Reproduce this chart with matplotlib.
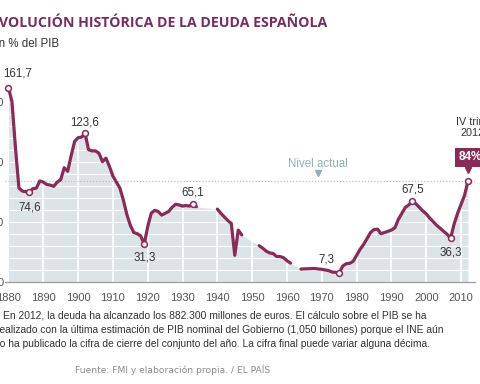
import numpy as np
import matplotlib
matplotlib.use("Agg")
import matplotlib.pyplot as plt

# deuda publica en % del PIB (NaN = sin dato)
years = np.arange(1880, 2013)
debt = [
    161.7, 150, 112, 78, 75.5, 75, 74.6, 77.5, 78, 84,          # 1880-1889
    83, 81, 80.5, 79.5, 83, 85, 95, 92, 105, 117,               # 1890-1899
    120, 120.5, 123.6, 110, 109, 109, 107, 100, 103, 96,        # 1900-1909
    88, 83, 78, 68, 56, 47, 41, 40, 38, 31.3,                   # 1910-1919
    46, 57, 59.5, 58.5, 55.5, 57, 58.5, 62, 64.5, 64,           # 1920-1929
    63, 63.5, 63, 65.1, 62.5, np.nan, np.nan, np.nan, np.nan, np.nan,  # 1930-1939
    60.5, 57, 54, 51, 48.5, 22, 43, 39, np.nan, np.nan,         # 1940-1949
    np.nan, np.nan, 30, 28, 25.5, 24, 23.5, 21, 21, 20,         # 1950-1959
    17.5, 15.5, np.nan, np.nan, 10.5, 10.7, 10.8, 10.9, 11, 10.6,  # 1960-1969
    10.3, 9.8, 9.2, 8, 7.8, 7.3, 13, 15, 15.3, 17,              # 1970-1979
    22, 27, 31, 36, 41, 43.5, 43.8, 40, 41, 42,                 # 1980-1989
    43, 45, 52, 57, 62, 64, 67.5, 65, 62, 59,                   # 1990-1999
    56.5, 53, 50, 47, 44.5, 42, 39.5, 36.3, 48, 57,             # 2000-2009
    64.5, 72, 84,                                               # 2010-2012
]
debt = np.array(debt, dtype=float)

label_years = [1880, 1886, 1902, 1919, 1933, 1975, 1996, 2007]
label_values = [161.7, 74.6, 123.6, 31.3, 65.1, 7.3, 67.5, 36.3]
label_texts = ["161,7", "74,6", "123,6", "31,3", "65,1", "7,3", "67,5", "36,3"]
label_offsets = [(6.5, 10), (0, -11), (0, 8), (0, -9.5), (0, 8), (-9, 10), (0, 8), (0, -10)]

current_level = 84
decades = list(range(1880, 2011, 10))

LINE = "#8b2a57"
FILL = "#dde4e8"
TITLE = "#7a2d5c"

fig = plt.figure(figsize=(4.8, 3.84), dpi=100)
fig.patch.set_facecolor("white")
ax = fig.add_axes([5 / 480, 1 - 281.7 / 384, 470 / 480, 210 / 384])

valid = ~np.isnan(debt)
ax.fill_between(years[valid], debt[valid], 0, color=FILL, lw=0, zorder=1)
for x in decades[1:]:
    ax.axvline(x, color="white", lw=1.3, zorder=2)
for y in range(10, 180, 10):
    ax.axhline(y, color="white", lw=0.8, zorder=2)

ax.axhline(current_level, color="#bfbfbf", lw=0.9, ls=(0, (1, 1.5)), zorder=3)
ax.plot(years, debt, color=LINE, lw=2.3, solid_capstyle="round", solid_joinstyle="round", zorder=4)

ax.plot(label_years + [2012], label_values + [current_level], "o", ms=4.2, mfc="white",
        mec=LINE, mew=1.1, zorder=5, clip_on=False)
for yr, val, txt, off in zip(label_years, label_values, label_texts, label_offsets):
    ax.annotate(txt, (yr, val), xytext=off, textcoords="offset points", ha="center", va="center",
                fontsize=8.3, color="#333333", family="Liberation Sans", zorder=6)

# nivel actual
ax.annotate("Nivel actual", (1969, current_level), xytext=(0, 12), textcoords="offset points",
            ha="center", va="center", fontsize=8.3, color="#8fb0b8", family="Liberation Sans",
            bbox=dict(boxstyle="square,pad=0.2", fc="white", ec="none"), zorder=6)
ax.plot([1969], [current_level + 6.5], marker="v", ms=4, color="#8fb0b8", lw=0, zorder=6)

# cuadro del ultimo dato
ax.annotate("84%", (2012, current_level), xytext=(1.5, 17), textcoords="offset points",
            ha="center", va="center", fontsize=8.5, fontweight="bold", color="white",
            family="Liberation Sans", annotation_clip=False,
            bbox=dict(boxstyle="square,pad=0.3", fc=LINE, ec="none"), zorder=7)
ax.plot([2012], [current_level + 9], marker="v", ms=4, color=LINE, lw=0, zorder=7, clip_on=False)
ax.annotate("IV trim.\n2012", (2012, current_level), xytext=(3.5, 38.5), textcoords="offset points",
            ha="center", va="center", fontsize=7.8, color="#333333", family="Liberation Sans",
            linespacing=1.05, annotation_clip=False)

ax.set_xlim(1879, 2014)
ax.set_ylim(0, 175)
ax.set_xticks(decades)
ax.set_yticks([0, 50, 100, 150])
ax.tick_params(length=0, labelsize=8, labelcolor="#555555", pad=8)
for lab in ax.get_xticklabels() + ax.get_yticklabels():
    lab.set_family("Liberation Sans")
ax.tick_params(axis="y", pad=1)
for side in ["top", "right", "left"]:
    ax.spines[side].set_visible(False)
ax.spines["bottom"].set_color("#9a9a9a")
ax.spines["bottom"].set_linewidth(0.9)
ax.set_facecolor("none")


def px(x, y):
    return x / 480, 1 - y / 384


fig.text(*px(-9, 23), "EVOLUCIÓN HISTÓRICA DE LA DEUDA ESPAÑOLA", fontsize=10.2, fontweight="bold",
         color=TITLE, family="Open Sans", va="center", ha="left")
fig.text(*px(-9, 44), "En % del PIB", fontsize=8.3, color="#333333", family="Liberation Sans",
         va="center", ha="left")

note_lines = [
    (3, "En 2012, la deuda ha alcanzado los 882.300 millones de euros. El cálculo sobre el PIB se ha"),
    (-4, "realizado con la última estimación de PIB nominal del Gobierno (1,050 billones) porque el INE aún"),
    (-6, "no ha publicado la cifra de cierre del conjunto del año. La cifra final puede variar alguna décima."),
]
for i, (x0, line) in enumerate(note_lines):
    fig.text(*px(x0, 316 + 14 * i), line, fontsize=7.4, color="#333333", family="Liberation Sans",
             va="center", ha="left")

fig.text(*px(75, 370), "Fuente: FMI y elaboración propia. / EL PAÍS", fontsize=6.6, color="#8a8a8a",
         family="DejaVu Sans", va="center", ha="left")

fig.savefig("out.png", dpi=100)
